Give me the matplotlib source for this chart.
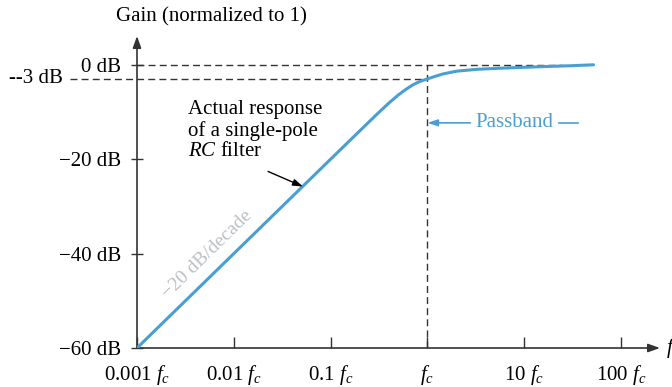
import matplotlib
matplotlib.use("Agg")
import matplotlib.pyplot as plt

# ---- data ----
freq_ratio = [0.001, 0.01, 0.1, 0.2, 0.3, 0.4, 0.5, 0.6, 0.7, 0.8, 0.9, 1.0,
              1.2, 1.44, 2.0, 3.3, 6.0, 15.0, 30.0, 52.0]
gain_db = [-60.0, -40.0, -20.0, -14.0, -10.5, -8.1, -6.4, -5.2, -4.3, -3.7, -3.3, -3.0,
           -2.45, -1.95, -1.35, -0.95, -0.7, -0.4, -0.2, 0.0]
x_ticks = [0.001, 0.01, 0.1, 1, 10, 100]
x_tick_labels = ["0.001 $f_c$", "0.01 $f_c$", "0.1 $f_c$", "$f_c$", "10 $f_c$", "100 $f_c$"]
y_ticks = [0, -20, -40, -60]
y_tick_labels = ["0 dB", "\u221220 dB", "\u221240 dB", "\u221260 dB"]
cutoff_db = -3

plt.rcParams['font.family'] = ['Liberation Serif', 'DejaVu Serif']
plt.rcParams['mathtext.fontset'] = 'custom'
plt.rcParams['mathtext.rm'] = 'Liberation Serif'
plt.rcParams['mathtext.it'] = 'Liberation Serif:italic'

W, H = 672, 387
fig = plt.figure(figsize=(W / 100, H / 100), dpi=100)
left_px, right_px, bottom_px, top_px = 137, 660, 348, 36
ax = fig.add_axes([left_px / W, (H - bottom_px) / H, (right_px - left_px) / W, (bottom_px - top_px) / H])
ax.set_xscale('log')
ax.set_xlim(1e-3, 10 ** (-3 + (right_px - left_px) / 96.8))
ax.set_ylim(-60, -60 + (bottom_px - top_px) / 4.72)
for s in ax.spines.values():
    s.set_visible(False)
ax.patch.set_alpha(0)

blue = '#4a9fd2'
dark = '#333333'
fs = 15

# axes with arrows
ax.annotate('', xy=(0, 1), xytext=(0, 0), xycoords='axes fraction',
            arrowprops=dict(arrowstyle='-|>,head_length=0.7,head_width=0.25', color=dark, lw=1.2, shrinkA=0, shrinkB=0))
ax.annotate('', xy=(1, 0), xytext=(0, 0), xycoords='axes fraction',
            arrowprops=dict(arrowstyle='-|>,head_length=0.7,head_width=0.25', color=dark, lw=1.2, shrinkA=0, shrinkB=0))
ax.text(1.012, 0, '$f$', transform=ax.transAxes, fontsize=fs, va='center', ha='left', clip_on=False)

# ticks
ax.set_xticks(x_ticks)
ax.set_xticklabels(x_tick_labels, fontsize=fs)
ax.xaxis.set_minor_locator(matplotlib.ticker.NullLocator())
ax.tick_params(axis='x', direction='in', length=8, width=1, color=dark, pad=11)
ax.set_yticks(y_ticks)
ax.set_yticklabels(y_tick_labels, fontsize=fs)
ax.tick_params(axis='y', direction='inout', length=9, width=1, color=dark, pad=7)

# dashed reference lines
fc = 1.0
dash = (0, (5, 3))
ax.plot([1e-3, 25], [0, 0], ls=dash, color=dark, lw=1.0)
ax.plot([10 ** (-3 - 67 / 96.8), fc], [cutoff_db, cutoff_db], ls=dash, color=dark, lw=1.0, clip_on=False)
ax.plot([fc, fc], [-60, 0], ls=dash, color=dark, lw=1.0)
ax.text((63 - left_px) / (right_px - left_px), cutoff_db, '--3 dB', transform=ax.get_yaxis_transform(),
        fontsize=fs, ha='right', va='center', clip_on=False)

# response curve
ax.plot(freq_ratio, gain_db, color=blue, lw=2.2, solid_capstyle='round', zorder=3)

# axis title
ax.text((211 - left_px) / (right_px - left_px), (bottom_px - 17) / (bottom_px - top_px),
        'Gain (normalized to 1)', transform=ax.transAxes, fontsize=fs, ha='center', va='center')

# annotations
ax.text(0.00336, -14.0, 'Actual response\nof a single-pole\n$RC$ filter', fontsize=fs,
        ha='left', va='center', linespacing=1.1)
ax.annotate('', xy=(0.0519, -25.8), xytext=(0.0226, -22.6),
            arrowprops=dict(arrowstyle='-|>,head_length=0.6,head_width=0.2', color='black', lw=1.0,
                            shrinkA=0, shrinkB=0))
ax.text(0.00225, -50.3, '\u221220 dB/decade', fontsize=14, color='#b9c0c4', rotation=44.3,
        rotation_mode='anchor', ha='left', va='bottom')

# passband
ax.text(3.13, -12.3, 'Passband', fontsize=fs, color=blue, ha='left', va='center')
ax.annotate('', xy=(1.0, -12.3), xytext=(2.78, -12.3),
            arrowprops=dict(arrowstyle='-|>,head_length=0.6,head_width=0.2', color=blue, lw=1.2,
                            shrinkA=0, shrinkB=0))
ax.plot([23.1, 36.3], [-12.3, -12.3], color=blue, lw=1.2)

fig.savefig('out.png', dpi=100)
